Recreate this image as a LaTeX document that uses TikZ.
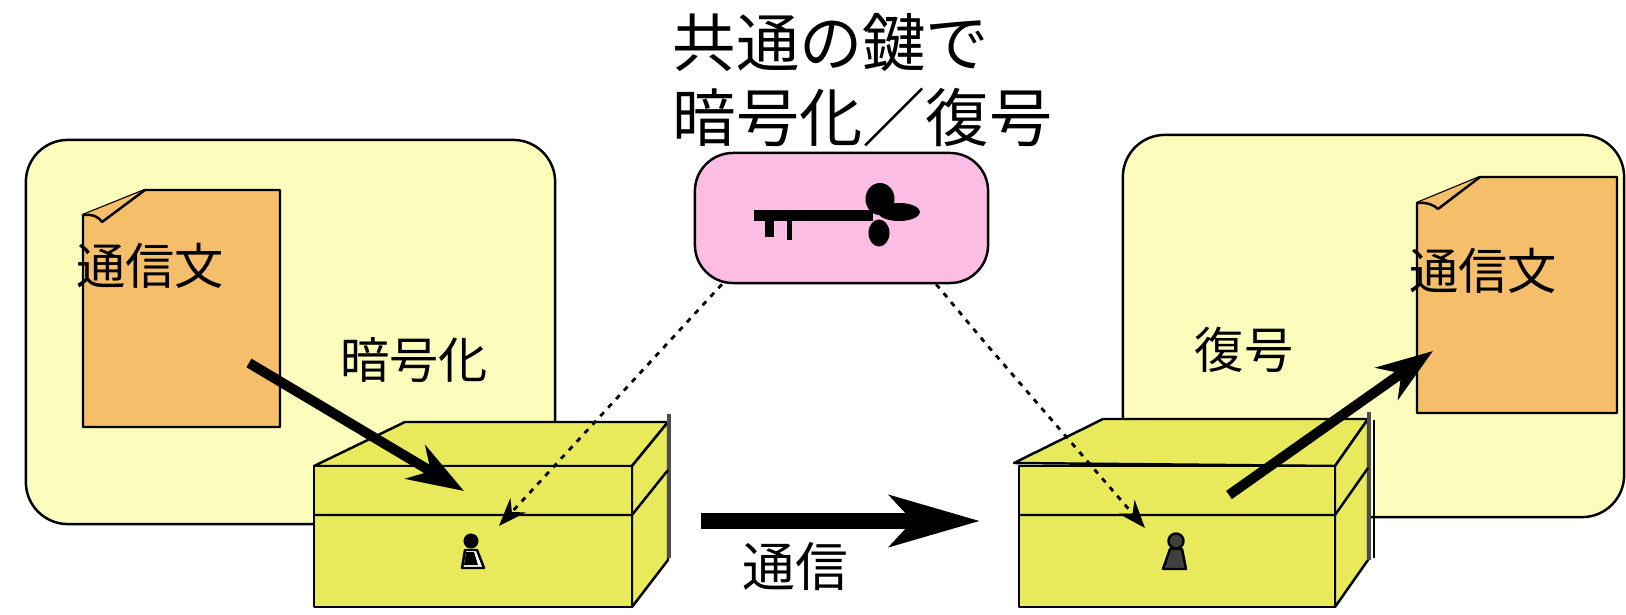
\documentclass[tikz,border=0pt]{standalone}
\usepackage{fontspec}
\setmainfont{Noto Sans CJK JP}
\usetikzlibrary{arrows.meta}
\definecolor{panelyellow}{RGB}{252,252,188}
\definecolor{paperorange}{RGB}{244,190,106}
\definecolor{chestyellow}{RGB}{232,234,92}
\definecolor{keypink}{RGB}{251,189,227}
\definecolor{holegray}{RGB}{64,64,64}

\begin{document}
\begin{tikzpicture}[x=0.01cm, y=-0.01cm, line join=round,
    panel/.style={rectangle, draw, line width=0.7pt, rounded corners=0.42cm, fill=panelyellow},
    paper/.style={draw, line width=0.7pt, fill=paperorange},
    chest/.style={draw, line width=0.7pt, fill=chestyellow},
    lbl/.style={font=\fontsize{14}{16}\selectfont, inner sep=0pt},
    bigarrow/.style={line width=2.85pt, -{Stealth[length=16pt, width=11pt, inset=5pt]}},
    keyarrow/.style={line width=0.8pt, dash pattern=on 1.5pt off 1.8pt, -{Stealth[length=8pt, width=6pt]}}]
    \useasboundingbox (0,0) rectangle (1626,615);

    % sender and receiver areas
    \node [panel, minimum width=5.29cm, minimum height=3.84cm] (sender) at (290.5,332) {};
    \node [panel, minimum width=5.01cm, minimum height=3.82cm] (receiver) at (1373.5,326) {};

    % shared key
    \node [rectangle, draw, line width=0.7pt, rounded corners=0.38cm, fill=keypink, minimum width=2.93cm, minimum height=1.3cm] (keybox) at (841.5,218) {};
    \fill (754,210) rectangle (873,221);
    \fill (765,221) rectangle (774,237);
    \fill (787,221) rectangle (792,240);
    \fill (880,199) ellipse [x radius=0.145cm, y radius=0.16cm];
    \fill (899,212) ellipse [x radius=0.21cm, y radius=0.09cm];
    \fill (879,233) ellipse [x radius=0.105cm, y radius=0.135cm];

    \node [anchor=west, align=left, inner sep=0pt, font=\fontsize{18}{21.3}\selectfont] (title) at (672,80) {共通の鍵で\\暗号化／復号};

    % plain texts
    \draw [paper] (83,215) -- (145,190) -- (280,190) -- (280,427) -- (83,427) -- cycle;
    \draw [paper] (83,215) .. controls (93,214) and (99,217) .. (102,222) -- (145,190);
    \draw [paper] (1417,203) -- (1480,177) -- (1617,177) -- (1617,413) -- (1417,413) -- cycle;
    \draw [paper] (1417,203) .. controls (1427,202) and (1434,205) .. (1438,209) -- (1480,177);
    \node [lbl] (plainL) at (150,266) {通信文};
    \node [lbl] (plainR) at (1483,271) {通信文};
    \node [lbl] (encrypt) at (414,360) {暗号化};
    \node [lbl] (decrypt) at (1244,350) {復号};

    % left chest
    \draw [chest] (314,466) -- (405,422) -- (668,422) -- (632,466) -- cycle;
    \draw [chest] (632,466) -- (668,422) -- (668,560) -- (632,607) -- cycle;
    \draw [line width=1.2pt, black!70] (669,414) -- (669,558);
    \node [chest, minimum width=3.18cm, minimum height=1.41cm] (chestL) at (473,536.5) {};
    \draw [line width=0.7pt] (314,515) -- (632,515) -- (668,470);
    \fill (471,541) circle [radius=0.075cm];
    \draw [line width=0.7pt, fill=white] (465,550) -- (477,550) -- (484,568) -- (462,568) -- cycle;
    \fill (466,552) -- (474,552) -- (478,565) -- (464,565) -- cycle;

    % right chest
    \draw [chest] (1014,463) -- (1103,419) -- (1368,419) -- (1335,466) -- cycle;
    \draw [chest] (1335,466) -- (1368,419) -- (1368,560) -- (1335,607) -- cycle;
    \draw [line width=1.2pt, black!70] (1369,412) -- (1369,560);
    \draw [line width=0.8pt] (1374,420) -- (1374,558);
    \node [chest, minimum width=3.16cm, minimum height=1.41cm] (chestR) at (1177,536.5) {};
    \draw [line width=0.7pt] (1019,515) -- (1335,515) -- (1368,468);
    \draw [line width=0.7pt, fill=holegray] (1176,541) circle [radius=0.075cm];
    \draw [line width=0.7pt, fill=holegray] (1170,549) -- (1182,549) -- (1186,569) -- (1163,569) -- cycle;

    % arrows
    \coordinate (lockInL) at (499,526);
    \coordinate (bendR) at (987,345);
    \coordinate (lockInR) at (1145,528);
    \draw [keyarrow] (keybox.-151) -- (lockInL);
    \draw [keyarrow] (keybox.-35) -- (bendR) -- (lockInR);

    \coordinate (msgOutL) at (249,363);
    \coordinate (msgInL) at (464,491);
    \coordinate (msgOutR) at (1229,495);
    \coordinate (msgInR) at (1433,351);
    \draw [bigarrow] (msgOutL) -- (msgInL);
    \draw [bigarrow] (msgOutR) -- (msgInR);

    \coordinate (sendA) at (701,521);
    \coordinate (sendB) at (980,521);
    \draw [line width=4.3pt, -{Stealth[length=25.6pt, width=14.5pt, inset=6.5pt]}] (sendA) -- (sendB);
    \node [lbl, font=\fontsize{15}{17}\selectfont] (send) at (795,567) {通信};
\end{tikzpicture}
\end{document}
